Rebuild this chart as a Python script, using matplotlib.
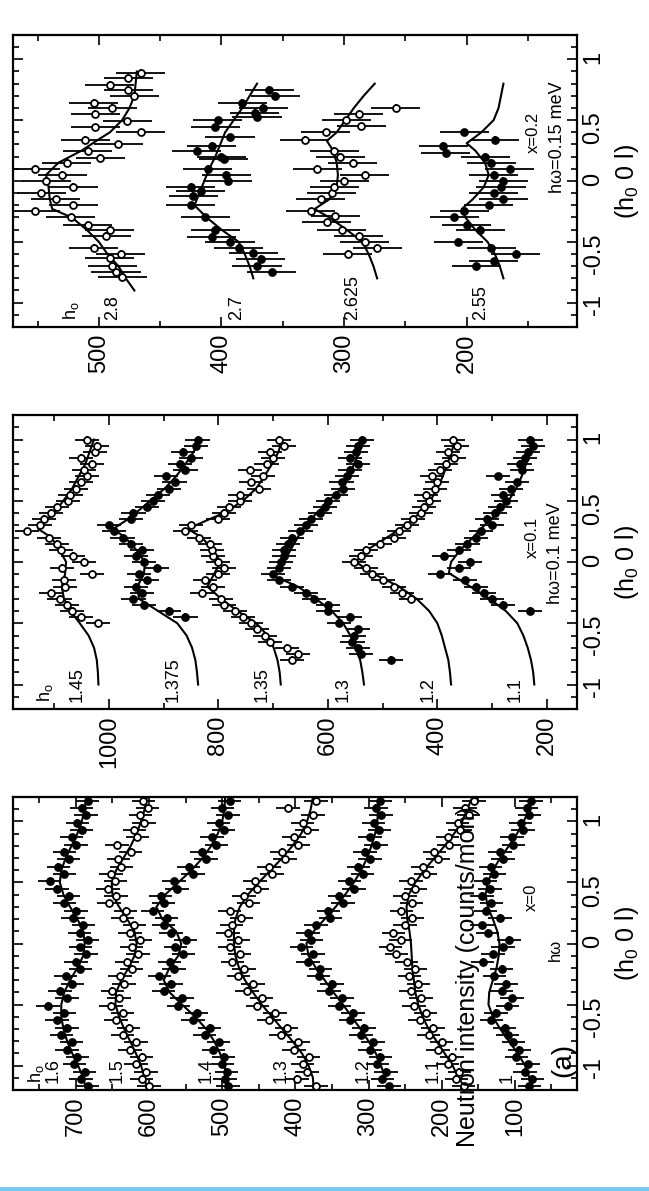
import numpy as np
import matplotlib
matplotlib.use("Agg")
import matplotlib.pyplot as plt
from matplotlib.ticker import MultipleLocator
from matplotlib.patches import Rectangle

plt.rcParams['font.family'] = ['Liberation Sans', 'DejaVu Sans']
plt.rcParams['mathtext.fontset'] = 'custom'
plt.rcParams['mathtext.rm'] = 'Liberation Sans'
plt.rcParams['mathtext.it'] = 'Liberation Sans:italic'
plt.rcParams['xtick.direction'] = 'in'
plt.rcParams['ytick.direction'] = 'in'

nan = np.nan

# ---------------- panel (a): x=0 ----------------
q_a = [-1.17, -1.11, -1.05, -0.99, -0.93, -0.87, -0.81, -0.75, -0.69, -0.63,
       -0.57, -0.51, -0.45, -0.39, -0.33, -0.27, -0.21, -0.15, -0.09, -0.03,
       0.03, 0.09, 0.15, 0.21, 0.27, 0.33, 0.39, 0.45, 0.51, 0.57,
       0.63, 0.69, 0.75, 0.81, 0.87, 0.93, 0.99, 1.05, 1.11, 1.17]
a_16 = [684, 693, 688, 702, 698, 712, 706, 720, 712, 726, 716, 738, 712, 722, 705, 714, 694, 700, 686, 694,
        684, 695, 690, 704, 700, 716, 710, 726, 736, 716, 724, 710, 716, 700, 706, 692, 698, 686, 692, 684]
a_15 = [600, 610, 604, 618, 610, 626, 618, 636, 628, 645, 636, 652, 641, 650, 634, 640, 624, 630, 615, 624,
        612, 626, 620, 636, 632, 655, 645, 656, 646, 652, 638, 642, 625, 644, 616, 620, 607, 612, 602, 608]
a_14 = [492, 496, 494, 500, 498, 512, 505, 524, 517, 540, 535, 560, 555, 580, 570, 586, 566, 572, 553, 564,
        550, 570, 580, 576, 595, 580, 584, 562, 566, 540, 546, 522, 528, 508, 514, 498, 505, 492, 500, 490]
a_13 = [372, 398, 384, 390, 382, 402, 396, 420, 412, 436, 428, 452, 446, 466, 458, 478, 470, 486, 476, 490,
        478, 492, 487, 474, 490, 464, 470, 452, 455, 432, 436, 414, 418, 396, 402, 384, 390, 376, 410, 372]
a_12 = [272, 281, 276, 288, 284, 298, 294, 310, 306, 325, 321, 340, 336, 354, 350, 368, 366, 383, 376, 392,
        378, 383, 372, 352, 355, 335, 340, 320, 326, 308, 314, 298, 305, 290, 298, 285, 293, 283, 290, 284]
a_11 = [170, 180, 176, 192, 186, 205, 200, 218, 212, 230, 222, 238, 228, 242, 232, 244, 236, 248, 262, 270,
        256, 266, 250, 240, 255, 241, 250, 236, 242, 222, 226, 205, 210, 190, 192, 175, 178, 163, 168, 156]
a_10 = [80, 76, 86, 82, 98, 94, 102, 110, 114, 132, 126, 110, 104, 118, 112, 128, 118, 144, 130, 116,
        108, 137, 145, 120, 140, 132, 145, 134, 140, 128, 133, 116, 120, 102, 104, 89, 92, 80, 84, 78]

qfit_a = [-1.2, -1.1, -1.0, -0.9, -0.8, -0.7, -0.6, -0.5, -0.4, -0.3, -0.2, -0.1, 0.0,
          0.1, 0.2, 0.3, 0.4, 0.5, 0.6, 0.7, 0.8, 0.9, 1.0, 1.1, 1.2]
fit_a16 = [686, 690, 697, 705, 712, 717, 720, 720, 716, 708, 698, 690, 688, 690, 698, 708, 717, 722, 720, 714, 706, 698, 692, 688, 686]
fit_a15 = [603, 606, 611, 618, 626, 634, 641, 646, 645, 638, 628, 620, 617, 620, 630, 641, 650, 651, 645, 635, 625, 617, 611, 606, 603]
fit_a14 = [nan, 494, 497, 503, 511, 522, 537, 555, 572, 580, 572, 560, 556, 563, 582, 590, 578, 560, 542, 527, 515, 506, 500, 497, 496]
fit_a13 = [375, 376, 382, 391, 404, 418, 432, 446, 458, 469, 477, 482, 484, 484, 482, 476, 465, 450, 434, 418, 404, 392, 384, 379, 376]
fit_a12 = [nan, 277, 283, 290, 300, 311, 323, 335, 348, 360, 372, 382, 385, 375, 360, 345, 332, 320, 310, 302, 296, 291, 288, 287, 286]
fit_a11 = [nan, 177, 185, 196, 207, 218, 226, 232, 236, 238, 240, 241, 242, 244, 247, 248, 245, 236, 224, 210, 196, 183, 172, 165, 158]
fit_a10 = [nan, 80, 86, 96, 108, 120, 130, 136, 135, 130, 125, 122, 121, 124, 130, 137, 140, 137, 130, 120, 108, 97, 88, 80, 75]

labels_a = ['1.6', '1.5', '1.4', '1.3', '1.2', '1.1', '1']
labelx_a = [731, 643, 522, 420, 307, 211, 110]
filled_a = [True, False, True, False, True, False, True]

# ---------------- panel (b): x=0.1 ----------------
q_b = [-0.8, -0.75, -0.7, -0.65, -0.6, -0.55, -0.5, -0.45, -0.4, -0.35, -0.3, -0.25, -0.2,
       -0.15, -0.1, -0.05, 0.0, 0.05, 0.1, 0.15, 0.2, 0.25, 0.3, 0.35, 0.4, 0.45,
       0.5, 0.55, 0.6, 0.65, 0.7, 0.75, 0.8, 0.85, 0.9, 0.95, 1.0]
b_145 = [nan, nan, nan, nan, nan, nan, 1019, 1050, 1068, 1077, 1090, 1106, 1080, 1082, 1030, 1085, 1045, 1065, 1088,
         1095, 1110, 1150, 1125, 1118, 1105, 1095, 1075, 1070, 1060, 1050, 1040, 1045, 1030, 1050, 1025, 1022, 1040]
b_1375 = [nan, nan, nan, nan, nan, nan, nan, 860, 890, 935, 955, 940, 950, 930, 945, 912, 935, 950, 940,
          960, 975, 990, 1000, 960, 955, 930, 920, 910, 890, 880, 895, 860, 870, 850, 865, 840, 838]
b_135 = [665, 655, 675, 705, 715, 730, 740, 755, 770, 790, 795, 830, 810, 825, 800, 790, 800, 810, 812,
         815, 835, 860, 850, 800, 790, 780, 760, 760, 725, 740, 718, 742, 712, 700, 705, 680, 690]
b_13 = [485, 540, 545, 555, 552, 545, 580, 560, 600, 600, 625, 640, 665, 690, 700, 690, 685, 680, 680,
        672, 665, 650, 640, 630, 615, 605, 600, 585, 572, 575, 565, 560, 545, 560, 548, 545, 538]
b_12 = [nan, nan, nan, nan, nan, nan, nan, nan, nan, nan, 448, 465, 480, 500, 520, 530, 552, 540, 530,
        505, 480, 470, 455, 445, 430, 425, 415, 420, 405, 400, 410, 395, 385, 370, 380, 365, 372]
b_11 = [nan, nan, nan, nan, nan, nan, nan, nan, 231, 280, 300, 315, 330, 350, 395, 360, 340, 388, 360,
        345, 330, 320, 300, 310, 295, 285, 275, 280, 265, 255, 290, 245, 250, 240, 235, 225, 230]

qfit_b145 = [-1.0, -0.9, -0.8, -0.7, -0.6, -0.5, -0.4, -0.3, -0.2, -0.1, 0.0, 0.1, 0.2, 0.27, 0.35, 0.4,
             0.5, 0.6, 0.7, 0.8, 0.9, 1.0]
fit_b145 = [1019, 1020, 1022, 1027, 1037, 1053, 1070, 1082, 1086, 1080, 1078, 1090, 1105, 1129, 1112, 1100,
            1083, 1067, 1055, 1043, 1035, 1027]
fit_b1375 = [837, 839, 842, 848, 858, 875, 910, 945, 948, 936, 934, 950, 970, 992, 965, 951,
             924, 898, 877, 860, 845, 835]
fit_b135 = [686, 688, 692, 699, 710, 731, 765, 795, 820, 808, 796, 810, 830, 856, 816, 790,
            755, 731, 716, 702, 690, 684]
qfit_b13 = [-1.0, -0.9, -0.8, -0.7, -0.6, -0.5, -0.4, -0.3, -0.2, -0.11, 0.0, 0.1, 0.2, 0.3, 0.4, 0.5,
            0.6, 0.7, 0.8, 0.9, 1.0]
fit_b13 = [534, 537, 541, 549, 559, 572, 593, 622, 655, 701, 680, 668, 655, 642, 620, 598, 576, 562, 552, 542, 535]
qfit_b12 = [-1.0, -0.9, -0.8, -0.7, -0.6, -0.5, -0.4, -0.3, -0.2, -0.1, 0.0, 0.1, 0.2, 0.3, 0.4, 0.5,
            0.6, 0.7, 0.8, 0.9, 1.0]
fit_b12 = [375, 377, 380, 386, 392, 400, 415, 438, 470, 515, 549, 528, 492, 458, 432, 413, 400, 390, 382, 374, 367]
qfit_b11 = [-1.0, -0.9, -0.8, -0.7, -0.6, -0.5, -0.4, -0.3, -0.2, -0.09, 0.0, 0.1, 0.2, 0.3, 0.4, 0.5,
            0.6, 0.7, 0.8, 0.9, 1.0]
fit_b11 = [223, 225, 229, 235, 243, 254, 275, 305, 340, 379, 375, 358, 335, 314, 290, 270, 256, 246, 238, 230, 224]

labels_b = ['1.45', '1.375', '1.35', '1.3', '1.2', '1.1']
labelx_b = [1057, 883, 720, 572, 417, 258]
filled_b = [False, True, False, True, False, True]

# ---------------- panel (c): x=0.2 ----------------
q_c28 = [-0.79, -0.75, -0.7, -0.63, -0.6, -0.55, -0.45, -0.4, -0.36, -0.3, -0.25, -0.2, -0.15, -0.1, -0.05, 0.0,
         0.05, 0.1, 0.15, 0.19, 0.25, 0.3, 0.34, 0.4, 0.44, 0.49, 0.55, 0.6, 0.64, 0.7, 0.75, 0.79, 0.85, 0.89]
c_28 = [481, 486, 489, 491, 482, 504, 494, 491, 509, 523, 552, 521, 535, 547, 521, 543,
        530, 552, 526, 499, 509, 484, 511, 466, 503, 477, 503, 489, 504, 471, 476, 491, 476, 466]
q_c27 = [-0.75, -0.7, -0.64, -0.59, -0.55, -0.5, -0.46, -0.4, -0.3, -0.2, -0.12, -0.08, -0.05, 0.0, 0.05,
         0.1, 0.18, 0.2, 0.25, 0.29, 0.36, 0.44, 0.5, 0.53, 0.56, 0.6, 0.64, 0.7, 0.75]
c_27 = [359, 371, 368, 374, 386, 393, 408, 405, 413, 425, 423, 417, 425, 395, 396,
        411, 398, 400, 420, 408, 393, 405, 403, 371, 373, 366, 383, 356, 361]
q_c2625 = [-0.6, -0.55, -0.5, -0.45, -0.4, -0.34, -0.29, -0.25, -0.15, -0.1, -0.05, 0.0, 0.05, 0.1, 0.15,
           0.2, 0.25, 0.34, 0.4, 0.45, 0.5, 0.55, 0.6]
c_2625 = [297, 273, 283, 288, 302, 314, 307, 327, 319, 310, 308, 300, 283, 322, 293,
          303, 308, 332, 315, 286, 298, 288, 258]
q_c255 = [-0.7, -0.66, -0.6, -0.55, -0.5, -0.4, -0.36, -0.3, -0.25, -0.2, -0.15, -0.1, -0.05, 0.0, 0.05,
          0.1, 0.15, 0.2, 0.23, 0.29, 0.34, 0.4]
c_255 = [192, 178, 160, 180, 207, 189, 200, 210, 202, 182, 170, 178, 172, 170, 178,
         165, 180, 185, 217, 219, 177, 202]

qfit_c28 = [-0.9, -0.8, -0.7, -0.6, -0.5, -0.4, -0.3, -0.23, -0.15, -0.05, 0.05, 0.15, 0.25, 0.33, 0.4,
            0.5, 0.6, 0.7, 0.8, 0.9]
fit_c28 = [471, 478, 484, 493, 500, 510, 522, 538, 540, 541, 543, 533, 514, 502, 491, 481, 475, 471, 470, 469]
qfit_c27 = [-0.8, -0.7, -0.6, -0.5, -0.4, -0.3, -0.2, -0.1, 0.0, 0.1, 0.2, 0.3, 0.4, 0.5, 0.6, 0.7, 0.8]
fit_c27 = [374, 377, 381, 386, 400, 412, 422, 418, 414, 410, 405, 401, 397, 390, 383, 377, 371]
qfit_c2625 = [-0.8, -0.7, -0.6, -0.5, -0.4, -0.3, -0.23, -0.15, -0.05, 0.05, 0.15, 0.25, 0.33, 0.4,
              0.5, 0.6, 0.7, 0.8]
fit_c2625 = [273, 276, 280, 285, 298, 312, 324, 312, 306, 305, 306, 309, 314, 306, 299, 292, 284, 275]
qfit_c255 = [-0.8, -0.7, -0.6, -0.5, -0.4, -0.3, -0.23, -0.15, -0.05, 0.05, 0.15, 0.25, 0.31, 0.4,
             0.5, 0.6, 0.7, 0.8]
fit_c255 = [170, 173, 177, 183, 193, 201, 204, 195, 186, 182, 185, 193, 200, 188, 178, 174, 172, 170]

labels_c = ['2.8', '2.7', '2.625', '2.55']
labelx_c = [489, 388, 293, 189]
filled_c = [False, True, False, True]

# error bar half widths (counts) and q resolution
err_a, err_b, err_c = 16, 22, 20
q_res = 0.03

q_ticks = [-1, -0.5, 0, 0.5, 1]
q_ticklabels = ['-1', '-0.5', '0', '0.5', '1']

W, H = 649, 1191
fig = plt.figure(figsize=(W / 100, H / 100), dpi=100)


def panel(top, bottom, xlim, ticks, minor):
    ax = fig.add_axes([13 / W, 1 - bottom / H, 564 / W, (bottom - top) / H])
    ax.set_xlim(*xlim)
    ax.set_ylim(-1.2, 1.2)
    ax.set_xticks(ticks, [str(t) for t in ticks])
    ax.xaxis.set_minor_locator(MultipleLocator(minor))
    ax.set_yticks(q_ticks, q_ticklabels)
    ax.yaxis.set_minor_locator(MultipleLocator(0.1))
    ax.tick_params(axis='both', which='both', top=True, bottom=True, left=True, right=True, width=1.2)
    ax.tick_params(axis='both', which='major', length=7)
    ax.tick_params(axis='both', which='minor', length=4)
    ax.tick_params(axis='x', labelrotation=90, labelsize=17, pad=5)
    ax.tick_params(axis='y', labelleft=False, labelright=True, labelrotation=90, labelsize=17, pad=4)
    ax.yaxis.set_label_position('right')
    ax.set_ylabel(r'(h$_\mathregular{0}$ 0 l)', fontsize=18, labelpad=6)
    for s in ax.spines.values():
        s.set_linewidth(1.6)
    return ax


def draw(ax, q, vals, err, filled):
    ax.errorbar(vals, q, xerr=err, yerr=q_res, fmt='o', ms=5, mew=1.3,
                mfc='k' if filled else 'white', mec='k', ecolor='k', elinewidth=1.3, capsize=0, zorder=3)


def curve_labels(ax, xs, labels, hx):
    ax.text(hx, -1.14, r'h$_\mathregular{o}$', rotation=90, ha='center', va='bottom', fontsize=13)
    for x, s in zip(xs, labels):
        ax.text(x, -1.14, s, rotation=90, ha='center', va='bottom', fontsize=13)


# panel (a)
ax1 = panel(797, 1090, (786, 15), [100, 200, 300, 400, 500, 600, 700], 50)
for vals, fit, fl in zip([a_16, a_15, a_14, a_13, a_12, a_11, a_10],
                         [fit_a16, fit_a15, fit_a14, fit_a13, fit_a12, fit_a11, fit_a10], filled_a):
    ax1.plot(fit, qfit_a, color='k', lw=1.5, zorder=2)
    draw(ax1, q_a, vals, err_a, fl)
curve_labels(ax1, labelx_a, labels_a, 754)
ax1.text(34, -0.95, '(a)', rotation=90, ha='center', va='center', fontsize=20)
ax1.text(45, -0.05, 'hω', rotation=90, ha='center', va='center', fontsize=12)
ax1.text(77, 0.38, 'x=0', rotation=90, ha='center', va='center', fontsize=12)
fig.text(468 / W, 1 - 977 / H, 'Neutron intensity (counts/mon)', rotation=90,
         ha='center', va='center', fontsize=18)

# panel (b)
ax2 = panel(415, 709, (1175, 145), [200, 400, 600, 800, 1000], 100)
fits_b = [(qfit_b145, fit_b145), (qfit_b145, fit_b1375), (qfit_b145, fit_b135),
          (qfit_b13, fit_b13), (qfit_b12, fit_b12), (qfit_b11, fit_b11)]
for vals, (qf, fit), fl in zip([b_145, b_1375, b_135, b_13, b_12, b_11], fits_b, filled_b):
    ax2.plot(fit, qf, color='k', lw=1.5, zorder=2)
    draw(ax2, q_b, vals, err_b, fl)
curve_labels(ax2, labelx_b, labels_b, 1117)
ax2.text(226, 0.2, 'x=0.1', rotation=90, ha='center', va='center', fontsize=12)
ax2.text(184, 0.07, 'hω=0.1 meV', rotation=90, ha='center', va='center', fontsize=13)

# panel (c)
ax3 = panel(35, 327, (570, 110), [200, 300, 400, 500], 50)
fits_c = [(qfit_c28, fit_c28), (qfit_c27, fit_c27), (qfit_c2625, fit_c2625), (qfit_c255, fit_c255)]
for (qd, vals), (qf, fit), fl in zip([(q_c28, c_28), (q_c27, c_27), (q_c2625, c_2625), (q_c255, c_255)],
                                     fits_c, filled_c):
    ax3.plot(fit, qf, color='k', lw=1.5, zorder=2)
    draw(ax3, qd, vals, err_c, fl)
curve_labels(ax3, labelx_c, labels_c, 523)
ax3.text(146, 0.4, 'x=0.2', rotation=90, ha='center', va='center', fontsize=12)
ax3.text(126, 0.36, 'hω=0.15 meV', rotation=90, ha='center', va='center', fontsize=13)

# light blue strip along the bottom edge
fig.add_artist(Rectangle((0, 0), 1, 4 / H, transform=fig.transFigure, color='#7cc9f0', lw=0))

fig.savefig('out.png', dpi=100)
